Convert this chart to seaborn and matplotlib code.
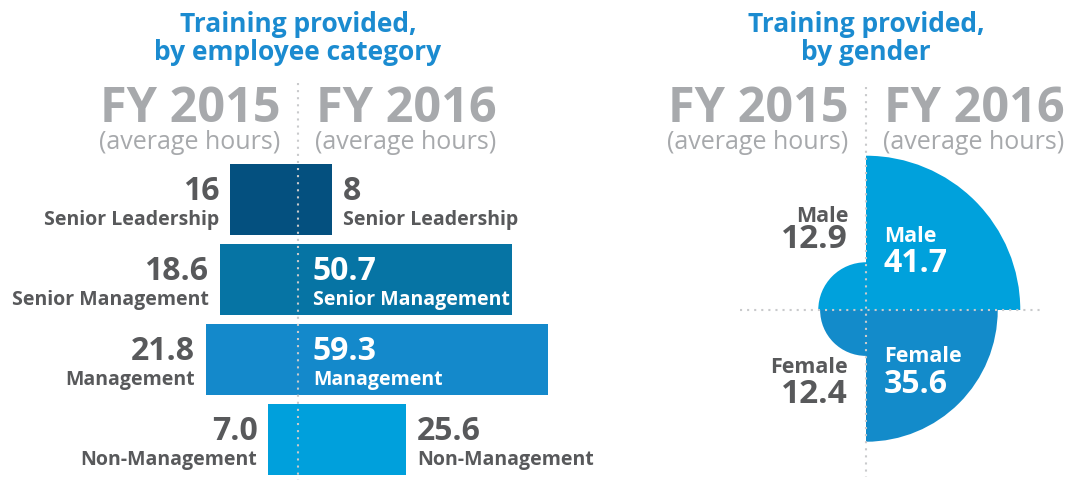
import numpy as np
import pandas as pd
import matplotlib.pyplot as plt
from matplotlib.lines import Line2D
import seaborn as sns

# data
categories = ['Senior Leadership', 'Senior Management', 'Management', 'Non-Management']
hours_2015 = [16, 18.6, 21.8, 7.0]
hours_2016 = [8, 50.7, 59.3, 25.6]
labels_2015 = ['16', '18.6', '21.8', '7.0']
labels_2016 = ['8', '50.7', '59.3', '25.6']

genders = ['Male', 'Female']
gender_2015 = [12.9, 12.4]
gender_2016 = [41.7, 35.6]
gender_labels_2015 = ['12.9', '12.4']
gender_labels_2016 = ['41.7', '35.6']

cat_colors = ['#04507f', '#0674a4', '#1489cb', '#00a0dc']
gender_colors = ['#00a1dc', '#138bca']
title_color = '#1b8bd0'
head_gray = '#a7a9ac'
text_gray = '#58595b'
dot_gray = '#c9cacc'

W, H = 1072, 481


def fx(x):
    return x / W


def fy(y):
    return 1 - y / H


sns.set_style('white')
plt.rcParams['font.family'] = ['Open Sans', 'DejaVu Sans']

fig = plt.figure(figsize=(W / 100, H / 100), dpi=100)

# ---------- left: butterfly bars by employee category ----------
PX = 4.22    # pixels per hour
ROW = 80     # pixels per category row
CX = 298     # centre line
ax = fig.add_axes([0, 0, 640 / W, 1])
df = pd.DataFrame({'category': categories,
                   'fy2015': [-v for v in hours_2015],
                   'fy2016': hours_2016})
for col in ['fy2015', 'fy2016']:
    sns.barplot(data=df, x=col, y='category', hue='category', palette=cat_colors,
                width=71 / 80, saturation=1, legend=False, ax=ax, linewidth=0)
ax.set_xlim(-CX / PX, (640 - CX) / PX)
ax.set_ylim((H - 200.5) / ROW, -200.5 / ROW)
ax.axis('off')

for i, cat in enumerate(categories):
    for side, vals, labs in [(-1, hours_2015, labels_2015), (1, hours_2016, labels_2016)]:
        v = vals[i]
        ha = 'left' if side > 0 else 'right'
        if v * PX > 190:
            x, color = side * 15 / PX, 'white'
        else:
            x, color = side * (v + 11 / PX), text_gray
        ax.text(x, i, labs[i], ha=ha, va='baseline', fontsize=23,
                fontweight='bold', color=color)
        ax.text(x, i + 25 / ROW, cat, ha=ha, va='baseline', fontsize=14,
                fontweight='bold', color=color)

# ---------- right: quarter wedges by gender ----------
PXR = 3.70
RMAX = 45
GX, GY = 866, 311
rpx = RMAX * PXR
pax = fig.add_axes([fx(GX - rpx), fy(GY + rpx), 2 * rpx / W, 2 * rpx / H],
                   projection='polar')
thetas = {('Male', 2016): np.pi / 4, ('Male', 2015): 3 * np.pi / 4,
          ('Female', 2015): 5 * np.pi / 4, ('Female', 2016): 7 * np.pi / 4}
for g, gname in enumerate(genders):
    for year, vals in [(2015, gender_2015), (2016, gender_2016)]:
        pax.bar(thetas[(gname, year)], vals[g], width=np.pi / 2, bottom=0,
                color=gender_colors[g], linewidth=0)
pax.set_ylim(0, RMAX)
pax.axis('off')

# wedge labels (offsets from the centre, in pixels)
offs = {'Male': (-89, -63, -69, -39), 'Female': (62, 92, 51, 82)}
for g, gname in enumerate(genders):
    a, b, c, d = offs[gname]
    fig.text(fx(GX - 18), fy(GY + a), gname, ha='right', va='baseline',
             fontsize=15.5, fontweight='bold', color=text_gray)
    fig.text(fx(GX - 18), fy(GY + b), gender_labels_2015[g], ha='right', va='baseline',
             fontsize=24, fontweight='bold', color=text_gray)
    fig.text(fx(GX + 18), fy(GY + c), gname, ha='left', va='baseline',
             fontsize=15.5, fontweight='bold', color='white')
    fig.text(fx(GX + 18), fy(GY + d), gender_labels_2016[g], ha='left', va='baseline',
             fontsize=23, fontweight='bold', color='white')

# ---------- headers ----------
for cx, sub in [(CX, 'by employee category'), (GX, 'by gender')]:
    fig.text(fx(cx), fy(32), 'Training provided,', ha='center', va='baseline',
             fontsize=19, fontweight='bold', color=title_color)
    fig.text(fx(cx), fy(60), sub, ha='center', va='baseline',
             fontsize=19, fontweight='bold', color=title_color)
    for dx, yr in [(-108, 'FY 2015'), (108, 'FY 2016')]:
        fig.text(fx(cx + dx), fy(122), yr, ha='center', va='baseline',
                 fontsize=35, fontweight='bold', color=head_gray)
        fig.text(fx(cx + dx), fy(149), '(average hours)', ha='center', va='baseline',
                 fontsize=18, color=head_gray)

# dotted guide lines
dots = dict(ls=(0, (1, 2.4)), lw=1.5, color=dot_gray, zorder=5)
fig.add_artist(Line2D([fx(CX), fx(CX)], [fy(84), fy(H)], **dots))
fig.add_artist(Line2D([fx(GX), fx(GX)], [fy(88), fy(478)], **dots))
fig.add_artist(Line2D([fx(740), fx(1040)], [fy(GY), fy(GY)], **dots))

fig.savefig('out.png', dpi=100)
